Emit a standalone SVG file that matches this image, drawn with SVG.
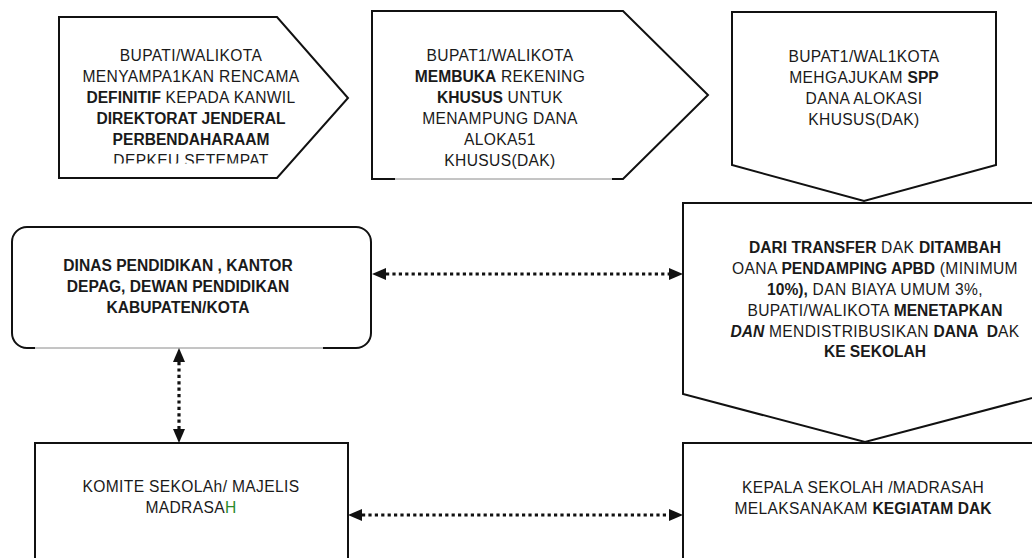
<svg xmlns="http://www.w3.org/2000/svg" width="1032" height="558" viewBox="0 0 1032 558">
<style>
.shape{fill:#fff;stroke:#111;stroke-width:2;stroke-linejoin:miter}
.thin{stroke:#8a8a8a;stroke-width:1;fill:none}
text{font-family:"Liberation Sans",Arial,sans-serif;font-size:15.6px;fill:#1a1a1a;text-anchor:middle;letter-spacing:0.35px}
.b{font-weight:bold;letter-spacing:0}
.conn{stroke:#111;stroke-width:3.2;stroke-dasharray:3.2 3.2;fill:none}
</style>
<defs>
<marker id="ah" viewBox="0 0 14 12" refX="0" refY="6" markerWidth="14" markerHeight="12" markerUnits="userSpaceOnUse" orient="auto-start-reverse">
<path d="M0,0 L14,6 L0,12 Z" fill="#111"/>
</marker>
<clipPath id="clip1"><rect x="55" y="10" width="300" height="153.5"/></clipPath>
</defs>
<rect width="1032" height="558" fill="#fff"/>

<g id="node1">
<path class="shape" d="M59,17 L277,17 L348,98 L277,178 L59,178 Z"/>
<g clip-path="url(#clip1)">
<text x="191" y="61">BUPATI/WALIKOTA</text>
<text x="191" y="82">MENYAMPA1KAN RENCAMA</text>
<text x="191" y="103"><tspan class="b">DEFINITIF</tspan> KEPADA KANWIL</text>
<text x="191" y="124" class="b">DIREKTORAT JENDERAL</text>
<text x="191" y="145" class="b">PERBENDAHARAAM</text>
<text x="191" y="166">DEPKEU SETEMPAT</text>
</g>
</g>

<g id="node2">
<path class="shape" d="M395,179 L372,179 L372,11 L623,11 L708,95 L623,179 L612,179" fill="#fff"/>
<line class="thin" x1="395" y1="179" x2="612" y2="179"/>
<text x="500" y="61">BUPAT1/WALIKOTA</text>
<text x="500" y="82"><tspan class="b">MEMBUKA</tspan> REKENING</text>
<text x="500" y="103"><tspan class="b">KHUSUS</tspan> UNTUK</text>
<text x="500" y="124">MENAMPUNG DANA</text>
<text x="500" y="145">ALOKA51</text>
<text x="500" y="166">KHUSUS(DAK)</text>
</g>

<g id="node3">
<path class="shape" d="M732,12 L996,12 L996,165 L864,201 L732,165 Z"/>
<text x="864" y="62">BUPAT1/WAL1KOTA</text>
<text x="864" y="83">MEHGAJUKAM <tspan class="b">SPP</tspan></text>
<text x="864" y="104">DANA ALOKASI</text>
<text x="864" y="125">KHUSUS(DAK)</text>
</g>

<g id="node4">
<path class="shape" d="M35,348 L27,348 A15,15 0 0 1 12,333 L12,242 A15,15 0 0 1 27,227 L356,227 A15,15 0 0 1 371,242 L371,333 A15,15 0 0 1 356,348 L323,348"/>
<line class="thin" x1="35" y1="348" x2="323" y2="348"/>
<text x="178" y="271" class="b">DINAS PENDIDIKAN , KANTOR</text>
<text x="178" y="292" class="b">DEPAG, DEWAN PENDIDIKAN</text>
<text x="178" y="313" class="b">KABUPATEN/KOTA</text>
</g>

<g id="node5">
<path class="shape" d="M683,203 L1047,203 L1047,394 L865,442 L683,394 Z"/>
<text x="875" y="253"><tspan class="b">DARI TRANSFER</tspan> DAK <tspan class="b">DITAMBAH</tspan></text>
<text x="875" y="274">OANA <tspan class="b">PENDAMPING APBD</tspan> (MINIMUM</text>
<text x="875" y="295"><tspan class="b">10%),</tspan> DAN BIAYA UMUM 3%,</text>
<text x="875" y="316">BUPATI/WALIKOTA <tspan class="b">MENETAPKAN</tspan></text>
<text x="875" y="336.5" xml:space="preserve"><tspan class="b" font-style="italic">DAN</tspan> MENDISTRIBUSIKAN <tspan class="b">DANA  D</tspan>AK</text>
<text x="875" y="357" class="b">KE SEKOLAH</text>
</g>

<g id="node6">
<rect class="shape" x="35" y="443" width="313" height="130"/>
<text x="191" y="492">KOMITE SEKOLAh/ MAJELIS</text>
<text x="191" y="513">MADRASA<tspan fill="#2a8a2a">H</tspan></text>
</g>

<g id="node7">
<rect class="shape" x="683" y="443" width="380" height="130"/>
<text x="863" y="493">KEPALA SEKOLAH /MADRASAH</text>
<text x="863" y="514">MELAKSANAKAM <tspan class="b">KEGIATAM DAK</tspan></text>
</g>

<g id="connectors">
<line class="conn" x1="386" y1="274" x2="669" y2="274" marker-start="url(#ah)" marker-end="url(#ah)"/>
<line class="conn" x1="179" y1="362" x2="179" y2="429" marker-start="url(#ah)" marker-end="url(#ah)"/>
<line class="conn" x1="362" y1="515" x2="669" y2="515" marker-start="url(#ah)" marker-end="url(#ah)"/>
</g>
</svg>
